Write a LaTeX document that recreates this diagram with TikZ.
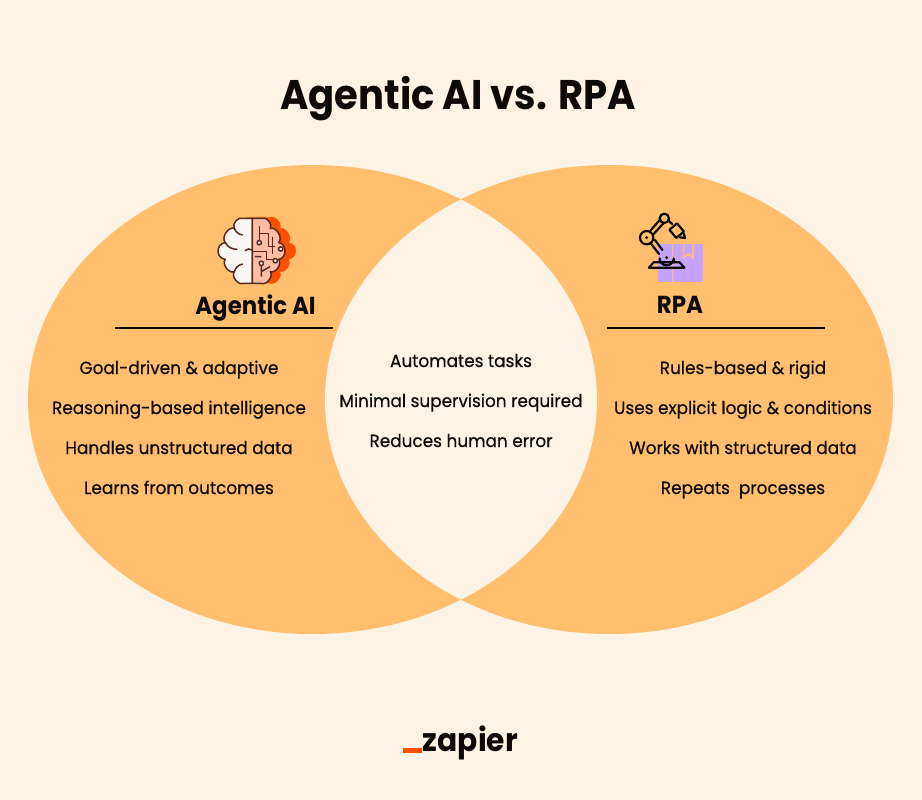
\documentclass[tikz,border=0pt]{standalone}
\usepackage{fontspec}
\setmainfont{Poppins}
\newfontfamily\itemfont{Poppins}[FakeBold=0.45, FakeStretch=0.96]
\newfontfamily\titlefont{Poppins Bold}[FakeStretch=0.93]
\usepackage{xcolor}
\definecolor{cream}{RGB}{255,243,230}
\definecolor{apricot}{RGB}{255,191,110}
\definecolor{ink}{RGB}{13,9,7}
\definecolor{embers}{RGB}{255,79,0}
\definecolor{blush}{RGB}{255,189,166}
\definecolor{snow}{RGB}{250,246,243}
\definecolor{brownline}{RGB}{90,40,30}
\definecolor{lilac}{RGB}{197,163,255}
\tikzset{
    itemtext/.style={font=\itemfont\fontsize{17.6}{20}\selectfont, text=ink, inner sep=0pt, anchor=base},
    headtext/.style={font=\titlefont\fontsize{24.6}{27}\selectfont, text=ink, inner sep=0pt, anchor=base},
    titletext/.style={font=\titlefont\fontsize{41.4}{46}\selectfont, text=ink, inner sep=0pt, anchor=base},
    headrule/.style={draw=ink, line width=2pt},
    brainline/.style={draw=brownline, line width=1.5pt, line join=round},
    robotline/.style={draw=ink, line width=2.2pt, line cap=round, line join=round}
}
\begin{document}
\begin{tikzpicture}[x=1pt, y=-1pt]
    \fill[cream] (0,0) rectangle (922,800);
    \useasboundingbox (0,0) rectangle (922,800);
    % venn
    \fill[apricot] (312.5,399.5) ellipse [x radius=284.5, y radius=234.5];
    \fill[apricot] (609,399.5) ellipse [x radius=284, y radius=234.5];
    \begin{scope}
        \clip (312.5,399.5) ellipse [x radius=284.5, y radius=234.5];
        \fill[cream] (609,399.5) ellipse [x radius=284, y radius=234.5];
    \end{scope}
    % brain
    \begin{scope}[shift={(200,200)}, x=0.3333pt, y=-0.3333pt]
        \fill[embers] (140,52) -- (208,52) to[bend left=75] (240,85) to[bend left=75] (266,128)
            to[bend left=85, looseness=1.5] (266,178) to[bend left=75] (240,215) to[bend left=75] (208,250) -- (140,250) -- cycle;
        \path[brainline, fill=snow] (157,55) -- (130,55) to[bend right=75] (103,85) to[bend right=75] (76,128)
            to[bend right=85, looseness=1.5] (76,178) to[bend right=75] (103,215) to[bend right=75] (130,250) -- (157,250) -- cycle;
        \path[brainline, fill=blush] (157,55) -- (184,55) to[bend left=75] (211,85) to[bend left=75] (236,128)
            to[bend left=85, looseness=1.3] (236,178) to[bend left=75] (211,215) to[bend left=75] (184,250) -- (157,250) -- cycle;
        \draw[brainline] (103,85) to[bend right=30] (128,105);
        \draw[brainline] (76,128) to[bend right=30] (112,148);
        \draw[brainline] (135,152) to[bend left=40] (157,150);
        \draw[brainline] (103,215) to[bend left=30] (128,192);
        \draw[brainline] (178,122) -- (178,78) (178,100) -- (205,100) -- (205,140) -- (225,140);
        \draw[brainline] (157,155) -- (200,155) -- (200,178) -- (225,178);
        \draw[brainline] (184,170) -- (165,170) (184,190) -- (184,230) (184,215) -- (210,200);
        \draw[brainline] (218,110) -- (218,162);
        \foreach \nx/\ny in {178/128, 242/147, 226/182, 184/190}
            \path[brainline, fill=snow] (\nx,\ny) circle (6.5);
    \end{scope}
    % robot and box
    \begin{scope}[shift={(625,200)}, x=0.3333pt, y=-0.3333pt]
        \fill[lilac] (100,132) rectangle (233,245);
        \draw[apricot, line width=1.6pt] (142,132) -- (142,245);
        \draw[apricot, line width=1.6pt] (176,132) -- (176,172) -- (190,162) -- (204,172) -- (204,132);
        \draw[robotline] (104,186) -- (104,175) arc [start angle=180, end angle=0, radius=21] -- (146,186);
        \draw[robotline] (86,187) -- (164,187) -- (178,203) -- (72,203) -- cycle;
        \fill[ink] (125,173) circle (5);
        \draw[robotline] (65,113) circle (20);
        \fill[ink] (65,113) circle (5);
        \draw[robotline] (78,131) -- (102,162) (90,120) -- (112,150);
        \draw[robotline] (76,92) -- (106,58) (86,102) -- (115,70);
        \draw[robotline] (118,55) circle (14);
        \draw[robotline] (130,62) -- (142,72);
        \draw[robotline, rotate around={40:(155,92)}] (140,76) rectangle (170,108);
        \draw[robotline] (164,112) -- (180,114) -- (176,100);
    \end{scope}
    % labels
    \node[titletext] (title) at (458,110) {Agentic AI vs. RPA};
    \node[headtext] (agenthead) at (255.5,314) {Agentic AI};
    \node[headtext] (rpahead) at (680,313) {RPA};
    \coordinate (agentruleL) at (115,327.5);
    \coordinate (agentruleR) at (333,327.5);
    \coordinate (rparuleL) at (607,327.5);
    \coordinate (rparuleR) at (825,327.5);
    \draw[headrule] (agentruleL) -- (agentruleR);
    \draw[headrule] (rparuleL) -- (rparuleR);
    \node[itemtext] (agentA) at (179,374) {Goal-driven \& adaptive};
    \node[itemtext] (agentB) at (179,414) {Reasoning-based intelligence};
    \node[itemtext] (agentC) at (179,454) {Handles unstructured data};
    \node[itemtext] (agentD) at (179,494) {Learns from outcomes};
    \node[itemtext] (bothA) at (461,367) {Automates tasks};
    \node[itemtext] (bothB) at (461,407) {Minimal supervision required};
    \node[itemtext] (bothC) at (461,447) {Reduces human error};
    \node[itemtext] (rpaA) at (743,374) {Rules-based \& rigid};
    \node[itemtext] (rpaB) at (743,414) {Uses explicit logic \& conditions};
    \node[itemtext] (rpaC) at (743,454) {Works with structured data};
    \node[itemtext] (rpaD) at (743,494) {Repeats\ \ processes};
    % logo
    \fill[embers] (403,748) rectangle (422,752.5);
    \node[font=\titlefont\fontsize{32}{34}\selectfont, text=ink, inner sep=0pt, anchor=base] (logo) at (470.5,751) {zapier};
\end{tikzpicture}
\end{document}
